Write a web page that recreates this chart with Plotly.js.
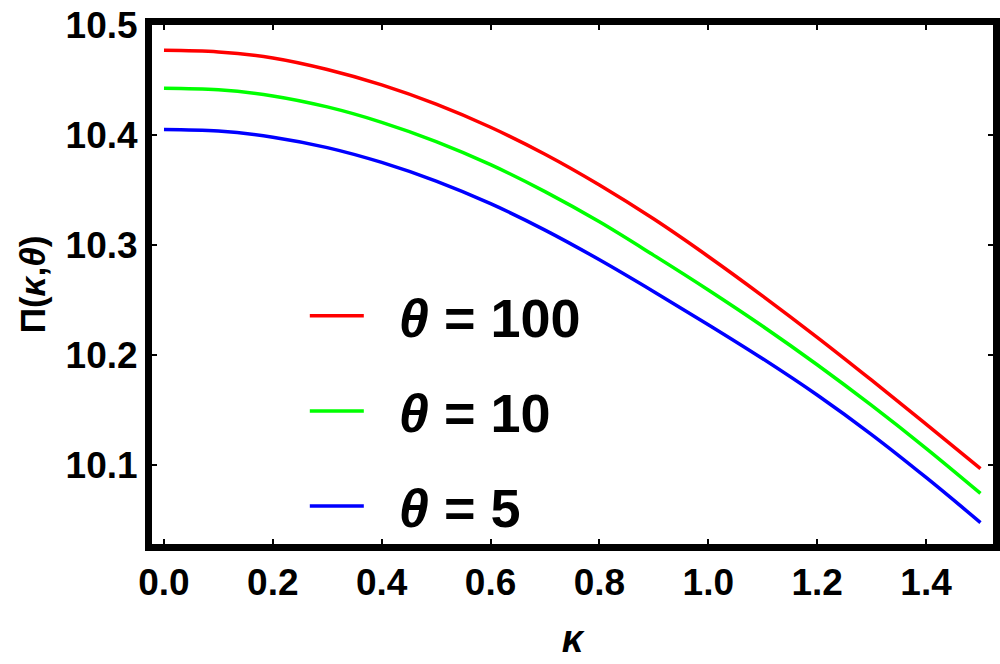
<!DOCTYPE html>
<html>
<head>
<meta charset="utf-8">
<script src="https://cdn.plot.ly/plotly-3.0.1.min.js"></script>
<style>
  html, body { margin: 0; padding: 0; background: #fff; }
  #plot { width: 1000px; height: 664px; }
</style>
</head>
<body>
<div id="plot"></div>
<script>
// values
var kappa = [0.0, 0.1, 0.2, 0.3, 0.4, 0.5, 0.6, 0.7, 0.8, 0.9, 1.0, 1.1, 1.2, 1.3, 1.4, 1.5];
var pi_theta100 = [10.4770, 10.4755, 10.4700, 10.4595, 10.4455, 10.4280, 10.4070, 10.3825,
                   10.3545, 10.3235, 10.2895, 10.2535, 10.2160, 10.1770, 10.1370, 10.0965];
var pi_theta10 = [10.4425, 10.4410, 10.4355, 10.4255, 10.4115, 10.3940, 10.3730, 10.3485,
                  10.3210, 10.2905, 10.2590, 10.2260, 10.1910, 10.1540, 10.1150, 10.0740];
var pi_theta5 = [10.4050, 10.4035, 10.3980, 10.3885, 10.3750, 10.3580, 10.3375, 10.3135,
                 10.2865, 10.2575, 10.2275, 10.1965, 10.1635, 10.1275, 10.0885, 10.0475];

var xTicks = [0.0, 0.2, 0.4, 0.6, 0.8, 1.0, 1.2, 1.4];
var xTickText = ['0.0', '0.2', '0.4', '0.6', '0.8', '1.0', '1.2', '1.4'];
var yTicks = [10.1, 10.2, 10.3, 10.4, 10.5];
var yTickText = ['10.1', '10.2', '10.3', '10.4', '10.5'];

var names = ['\u00a0\u00a0<i>θ</i> = 100', '\u00a0\u00a0<i>θ</i> = 10', '\u00a0\u00a0<i>θ</i> = 5'];
var colors = ['#ff0000', '#00ff00', '#0000ff'];

function create_plot(){
  var series = [pi_theta100, pi_theta10, pi_theta5];
  var data = [];
  for (var i = 0; i < series.length; i++) {
    data.push({
      x: kappa,
      y: series[i],
      mode: 'lines',
      type: 'scatter',
      name: names[i],
      legendgroup: 'g' + i,
      line: { color: colors[i], width: 3.5, shape: 'spline', smoothing: 1 }
    });
  }

  var fnt = { family: 'Liberation Sans, Arial, sans-serif', color: '#000', weight: 'bold' };

  var axisCommon = {
    showline: true,
    linecolor: '#000',
    linewidth: 7,
    mirror: 'ticks',
    ticks: 'inside',
    ticklen: 5,
    tickwidth: 2,
    tickcolor: '#000',
    showgrid: false,
    zeroline: false,
    tickfont: Object.assign({ size: 37 }, fnt)
  };

  var layout = {
    width: 1000,
    height: 664,
    margin: { l: 152, r: 7, t: 25, b: 120 },
    paper_bgcolor: '#fff',
    plot_bgcolor: '#fff',
    xaxis: Object.assign({}, axisCommon, {
      range: [-0.022, 1.523],
      tickvals: xTicks,
      ticktext: xTickText,
      title: { text: '<i>κ</i>', font: Object.assign({ size: 38 }, fnt), standoff: 25 }
    }),
    yaxis: Object.assign({}, axisCommon, {
      range: [10.028, 10.5],
      tickvals: yTicks,
      ticktext: yTickText,
      title: { text: 'Π(<i>κ</i>,<i>θ</i>)', font: Object.assign({ size: 35 }, fnt), standoff: 12 }
    }),
    showlegend: true,
    legend: {
      x: 0.1817,
      y: 0.52,
      xanchor: 'left',
      yanchor: 'top',
      bgcolor: 'rgba(0,0,0,0)',
      borderwidth: 0,
      itemwidth: 54,
      traceorder: 'grouped',
      tracegroupgap: 22,
      font: Object.assign({ size: 54 }, fnt)
    }
  };

  Plotly.newPlot('plot', data, layout, { staticPlot: true });
}

create_plot();
</script>
</body>
</html>
